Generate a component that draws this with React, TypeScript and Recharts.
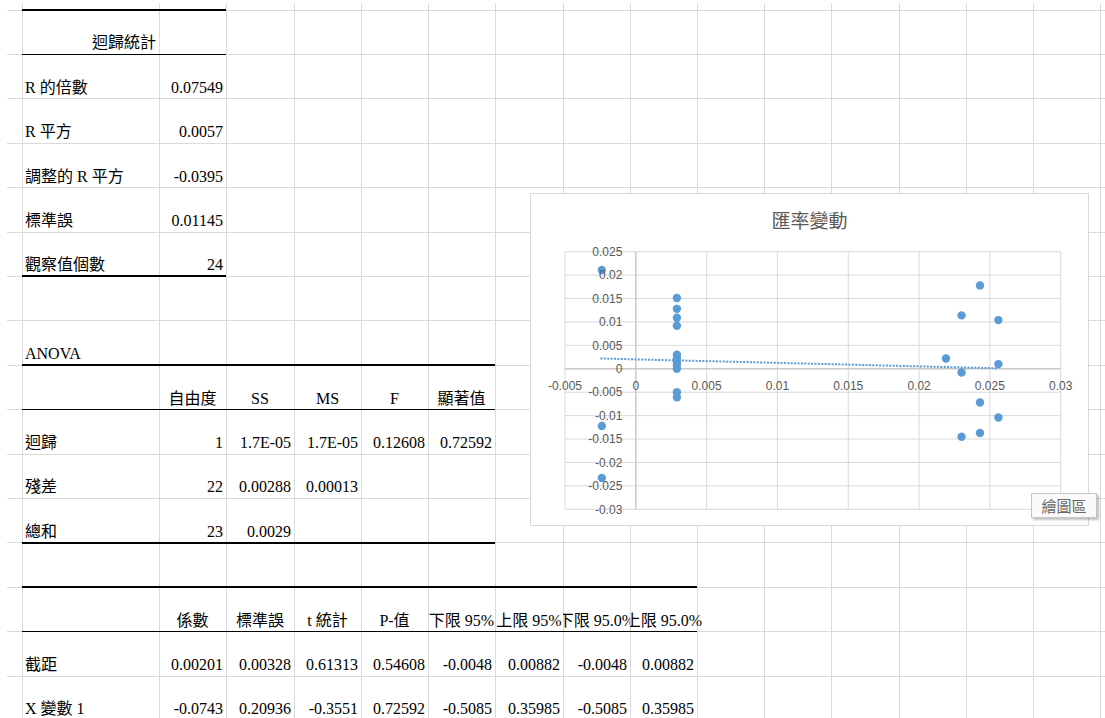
import React from 'react';
import { ScatterChart, Scatter, XAxis, YAxis, CartesianGrid, ReferenceLine, ReferenceDot } from 'recharts';

// ---------- chart data ----------
const chartTitle = '匯率變動';
const xChange = [
  -0.0024, -0.0024, -0.0024,
  0.0029, 0.0029, 0.0029, 0.0029, 0.0029, 0.0029, 0.0029, 0.0029, 0.0029, 0.0029, 0.0029,
  0.0243, 0.023, 0.0256, 0.0219, 0.0256, 0.023, 0.0243, 0.0256, 0.0243, 0.023,
];
const yChange = [
  0.0211, -0.0122, -0.0233,
  0.0151, 0.0128, 0.0109, 0.0092, 0.003, 0.0022, 0.0015, 0.0008, 0.0, -0.005, -0.0061,
  0.0178, 0.0114, 0.0104, 0.0022, 0.001, -0.0008, -0.0072, -0.0104, -0.0137, -0.0145,
];
const trendX = [-0.0025, 0.0256];
const trendY = [0.0022, 0.0001];
const xTicks = [-0.005, 0, 0.005, 0.01, 0.015, 0.02, 0.025, 0.03];
const yTicks = [0.025, 0.02, 0.015, 0.01, 0.005, 0, -0.005, -0.01, -0.015, -0.02, -0.025, -0.03];

// ---------- sheet data ----------
const regStatTitle = '迴歸統計';
const regStatLabels = ['R 的倍數', 'R 平方', '調整的 R 平方', '標準誤', '觀察值個數'];
const regStatValues = ['0.07549', '0.0057', '-0.0395', '0.01145', '24'];
const anovaTitle = 'ANOVA';
const anovaHeaders = ['自由度', 'SS', 'MS', 'F', '顯著值'];
const anovaLabels = ['迴歸', '殘差', '總和'];
const anovaValues = [
  ['1', '1.7E-05', '1.7E-05', '0.12608', '0.72592'],
  ['22', '0.00288', '0.00013', '', ''],
  ['23', '0.0029', '', '', ''],
];
const coefHeaders = ['係數', '標準誤', 't 統計', 'P-值', '下限 95%', '上限 95%', '下限 95.0%', '上限 95.0%'];
const coefLabels = ['截距', 'X 變數 1'];
const coefValues = [
  ['0.00201', '0.00328', '0.61313', '0.54608', '-0.0048', '0.00882', '-0.0048', '0.00882'],
  ['-0.0743', '0.20936', '-0.3551', '0.72592', '-0.5085', '0.35985', '-0.5085', '0.35985'],
];
const placeholder = '繪圖區';

const points = xChange.map((x, i) => ({ x, y: yChange[i] }));
const trend = trendX.map((x, i) => ({ x, y: trendY[i] }));

// ---------- layout ----------
const COLS = [22, 159, 226, 294, 361, 428, 495, 563, 630, 697, 764, 831, 899, 966, 1033, 1100];
const ROW_H = 44.4;
const rowTop = (r: number) => 10 + ROW_H * r;
const SHEET_FONT = '"Liberation Serif", "Noto Sans CJK TC", serif';
const CHART_FONT = '"Liberation Sans", "Noto Sans CJK TC", sans-serif';

type CellProps = { col: number; row: number; text: string; align?: 'left' | 'right' | 'center'; span?: number; spill?: boolean };

function Cell({ col, row, text, align = 'left', span = 1, spill = false }: CellProps) {
  const left = COLS[col];
  const w = COLS[col + span] - left;
  const justify = align === 'left' ? 'flex-start' : align === 'right' ? 'flex-end' : 'center';
  const inner = (
    <div
      style={{
        position: 'absolute',
        left: 0,
        top: 0,
        width: w,
        height: ROW_H,
        display: 'flex',
        alignItems: 'flex-end',
        justifyContent: justify,
        padding: '0 3px 2px 3px',
        boxSizing: 'border-box',
        whiteSpace: 'nowrap',
        fontFamily: SHEET_FONT,
        fontSize: 16,
        lineHeight: '18px',
        color: '#000',
      }}
    >
      <span style={{ flexShrink: 0 }}>{text}</span>
    </div>
  );
  return (
    <div
      style={{
        position: 'absolute',
        left,
        top: rowTop(row),
        width: spill ? w + 40 : w,
        height: ROW_H,
        overflow: 'hidden',
      }}
    >
      {inner}
    </div>
  );
}

function HLine({ row, from, to, weight, color }: { row: number; from: number; to: number; weight: number; color: string }) {
  return (
    <div
      style={{
        position: 'absolute',
        left: from,
        top: rowTop(row) - weight / 2,
        width: to - from,
        height: weight,
        background: color,
      }}
    />
  );
}

const DotShape = (p: any) => <circle cx={p.cx} cy={p.cy} r={4.2} fill="#5b9bd5" />;
const NoShape = () => <g />;

export default function App() {
  const gridRows = Array.from({ length: 16 }, (_, i) => i);
  return (
    <div style={{ position: 'absolute', left: 0, top: 0, width: 1105, height: 718, overflow: 'hidden', background: '#fff' }}>
      {/* sheet gridlines */}
      {gridRows.map((r) => (
        <HLine key={'g' + r} row={r} from={7} to={1105} weight={1} color="#dadada" />
      ))}
      {COLS.map((x, i) => (
        <div key={'v' + i} style={{ position: 'absolute', left: x - 0.5, top: 3, width: 1, height: 715, background: '#dadada' }} />
      ))}

      {/* borders */}
      <HLine row={0} from={22} to={226} weight={2} color="#000" />
      <HLine row={1} from={22} to={226} weight={1} color="#000" />
      <HLine row={6} from={22} to={226} weight={2} color="#000" />
      <HLine row={8} from={22} to={495} weight={2} color="#000" />
      <HLine row={9} from={22} to={495} weight={1} color="#000" />
      <HLine row={12} from={22} to={495} weight={2} color="#000" />
      <HLine row={13} from={22} to={697} weight={2} color="#000" />
      <HLine row={14} from={22} to={697} weight={1} color="#000" />

      {/* regression stats */}
      <Cell col={0} row={0} span={2} text={regStatTitle} align="center" />
      {regStatLabels.map((t, i) => (
        <Cell key={'rl' + i} col={0} row={1 + i} text={t} />
      ))}
      {regStatValues.map((t, i) => (
        <Cell key={'rv' + i} col={1} row={1 + i} text={t} align="right" />
      ))}

      {/* ANOVA */}
      <Cell col={0} row={7} text={anovaTitle} />
      {anovaHeaders.map((t, i) => (
        <Cell key={'ah' + i} col={1 + i} row={8} text={t} align="center" />
      ))}
      {anovaLabels.map((t, i) => (
        <Cell key={'al' + i} col={0} row={9 + i} text={t} />
      ))}
      {anovaValues.map((rowVals, r) =>
        rowVals.map((t, c) => (t ? <Cell key={'av' + r + '-' + c} col={1 + c} row={9 + r} text={t} align="right" /> : null))
      )}

      {/* coefficients */}
      {coefHeaders.map((t, i) => (
        <Cell key={'ch' + i} col={1 + i} row={13} text={t} align="center" spill={i === coefHeaders.length - 1} />
      ))}
      {coefLabels.map((t, i) => (
        <Cell key={'cl' + i} col={0} row={14 + i} text={t} />
      ))}
      {coefValues.map((rowVals, r) =>
        rowVals.map((t, c) => <Cell key={'cv' + r + '-' + c} col={1 + c} row={14 + r} text={t} align="right" />)
      )}

      {/* chart */}
      <div
        style={{
          position: 'absolute',
          left: 530,
          top: 193,
          width: 559,
          height: 333,
          border: '1px solid #d9d9d9',
          boxSizing: 'border-box',
          background: '#fff',
        }}
      >
        <div
          style={{
            position: 'absolute',
            left: 0,
            right: 0,
            top: 14,
            textAlign: 'center',
            fontFamily: '"Noto Sans CJK TC", sans-serif',
            fontSize: 19,
            lineHeight: '24px',
            color: '#595959',
          }}
        >
          {chartTitle}
        </div>
        <ScatterChart width={557} height={331} margin={{ top: 57.7, right: 27.3, bottom: 15.7, left: 34 }}>
          <CartesianGrid stroke="#d9d9d9" />
          <XAxis type="number" dataKey="x" domain={[-0.005, 0.03]} ticks={xTicks} hide />
          <YAxis type="number" dataKey="y" domain={[-0.03, 0.025]} ticks={yTicks} hide />
          <ReferenceLine x={0} stroke="#bfbfbf" strokeWidth={1} />
          <ReferenceLine y={0} stroke="#bfbfbf" strokeWidth={1} />
          {xTicks.map((v) => (
            <ReferenceDot
              key={'xl' + v}
              x={v}
              y={0}
              r={0}
              fill="none"
              stroke="none"
              label={{ value: String(v), position: 'bottom', offset: 13, fill: '#595959', fontSize: 12, fontFamily: CHART_FONT }}
            />
          ))}
          {yTicks.map((v) => (
            <ReferenceDot
              key={'yl' + v}
              x={0}
              y={v}
              r={0}
              fill="none"
              stroke="none"
              label={{ value: String(v), position: 'left', offset: 13.5, fill: '#595959', fontSize: 12, fontFamily: CHART_FONT }}
            />
          ))}
          <Scatter
            data={trend}
            line={{ stroke: '#5b9bd5', strokeWidth: 2, strokeDasharray: '2 1.4' }}
            shape={NoShape}
            isAnimationActive={false}
          />
          <Scatter data={points} shape={DotShape} isAnimationActive={false} />
        </ScatterChart>
      </div>

      {/* placeholder tooltip */}
      <div
        style={{
          position: 'absolute',
          left: 1031,
          top: 493,
          width: 66,
          height: 25,
          border: '1px solid #c6c6c6',
          boxShadow: '2px 2px 2px rgba(0,0,0,0.25)',
          background: '#fafafa',
          boxSizing: 'border-box',
          display: 'flex',
          alignItems: 'center',
          justifyContent: 'center',
          fontFamily: '"Noto Sans CJK TC", sans-serif',
          fontSize: 15,
          color: '#666',
        }}
      >
        {placeholder}
      </div>
    </div>
  );
}
